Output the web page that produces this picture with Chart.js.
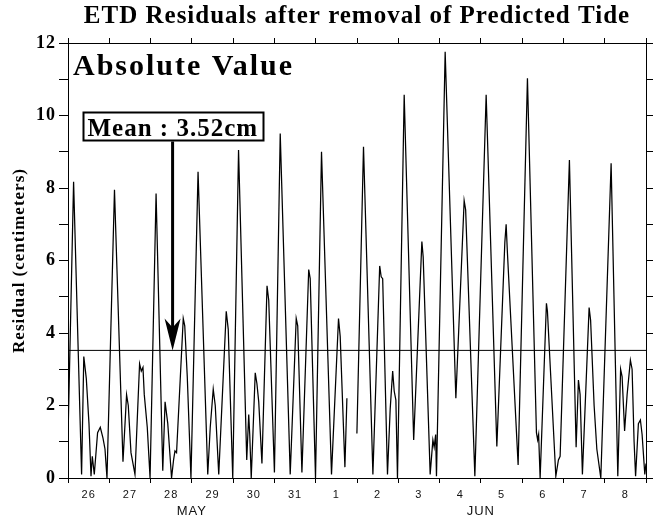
<!DOCTYPE html>
<html><head><meta charset="utf-8">
<script src="https://cdn.jsdelivr.net/npm/chart.js@4"></script>
<style>html,body{margin:0;padding:0;background:#fff;}#wrap{width:653px;height:520px;}</style>
</head><body><div id="wrap"><canvas id="c" width="653" height="520"></canvas></div>
<script>
const TITLE = 'ETD Residuals after removal of Predicted Tide';
const Y_TITLE = 'Residual (centimeters)';
const PANEL_LABEL = 'Absolute Value';
const MEAN = 3.52;
const MEAN_LABEL = 'Mean : 3.52cm';
const ARROW_HOUR = 60.8;
const DAY_LABELS = ['26','27','28','29','30','31','1','2','3','4','5','6','7','8'];
const MONTH_LABELS = ['MAY','JUN'];
const MONTH_CENTERS = [72, 240];
const Y_TICK_VALUES = [0,1,2,3,4,5,6,7,8,9,10,11,12];
const Y_LABEL_VALUES = [0,2,4,6,8,10,12];
// hours since 26 May 00:00
const HOURS = [0, 3.25, 7.90, 9.18, 10.63, 12.20, 13.37, 14.12, 15.28, 17.20,
  18.77, 20.34, 21.50, 22.66, 27.02, 31.96, 34.05, 35.04, 36.61, 38.93,
  41.61, 42.60, 43.58, 44.34, 46.08, 47.71, 51.20, 55.09, 56.43, 58.00,
  60.20, 61.37, 62.18, 63.11, 67.00, 67.87, 69.33, 71.48, 75.60, 81.24,
  82.69, 84.43, 85.60, 87.63, 91.99, 93.15, 95.77, 99.14, 103.90, 105.06,
  105.64, 106.52, 108.84, 109.83, 110.88, 112.74, 115.70, 116.69, 120.00, 123.37,
  129.18, 132.67, 133.54, 135.98, 139.93, 140.80, 143.88, 147.37, 153.18, 157.25,
  158.24, 160.97, 162.13, 165.0, 167.94, 171.78, 177.24, 181.19, 182.06, 182.93,
  185.72, 187.29, 188.74, 189.62, 190.60, 191.53, 195.43, 200.95, 205.71, 206.47,
  210.53, 212.11, 212.86, 213.73, 214.20, 219.25, 225.47, 230.29, 231.16, 236.51,
  243.08, 249.29, 253.94, 254.70, 255.46, 261.67, 267.08, 272.31, 273.00, 273.58,
  274.46, 278.12, 278.70, 283.58, 285.09, 286.08, 291.48, 295.38, 296.72, 297.70,
  299.04, 302.93, 303.80, 305.84, 307.41, 309.73, 315.72, 319.61, 321.24, 322.11,
  323.56, 325.02, 326.93, 327.92, 329.08, 329.95, 331.58, 332.74, 333.73, 335.30,
  336];
const RESIDUAL = [1.1, 8.17, 0.1, 3.35, 2.75, 1.5, 0.05, 0.6, 0.1, 1.25,
  1.4, 1.1, 0.8, 0.0, 7.95, 0.45, 2.3, 2.0, 0.7, 0.1,
  3.15, 2.95, 3.05, 2.3, 1.4, 0.0, 7.85, 0.2, 2.1, 1.5,
  0.0, 0.5, 0.75, 0.7, 4.4, 4.2, 2.8, 0.0, 8.45, 0.1,
  1.4, 2.45, 2.0, 0.1, 4.6, 4.1, 0.0, 9.05, 0.5, 1.75,
  1.2, 0.0, 2.9, 2.6, 2.1, 0.4, 5.3, 4.9, 0.15, 9.5,
  0.1, 4.4, 4.2, 0.15, 5.75, 5.5, 0.0, 9.0, 0.1, 4.4,
  3.9, 0.3, 2.2, null, 1.23, 9.14, 0.1, 5.85, 5.55, 5.5,
  0.1, 1.9, 2.95, 2.4, 2.15, 0.0, 10.57, 1.05, 6.52, 6.1,
  0.1, 1.05, 0.85, 1.2, 0.05, 11.76, 2.2, 7.65, 7.4, 0.05,
  10.57, 0.87, 6.5, 7.0, 6.2, 0.36, 11.03, 1.25, 1.05, 1.2,
  0.0, 4.82, 4.6, 0.05, 0.5, 0.6, 8.77, 0.85, 2.7, 2.3,
  0.1, 4.7, 4.35, 2.0, 0.8, 0.0, 8.68, 0.05, 3.0, 2.8,
  1.3, 2.3, 3.25, 3.0, 1.0, 0.05, 1.5, 1.6, 1.2, 0.1,
  0.4];

const X_MAX = DAY_LABELS.length * 24;
const X_TICKS = [];
for (let i = 0; i <= DAY_LABELS.length; i++) { X_TICKS.push(i * 24); if (i < DAY_LABELS.length) X_TICKS.push(i * 24 + 12); }
const X_BOUNDS = X_TICKS.filter(v => v % 24 === 0);

const annot = {
  id: 'annot',
  beforeDraw(chart) { chart.ctx.letterSpacing = '1px'; },
  afterDraw(chart) {
    const {ctx, chartArea: a, scales} = chart;
    ctx.save();
    ctx.fillStyle = '#000';
    ctx.strokeStyle = '#000';
    ctx.textBaseline = 'alphabetic';
    ctx.textAlign = 'left';
    ctx.letterSpacing = '2px';
    ctx.font = 'bold 30px "Liberation Serif"';
    ctx.fillText(PANEL_LABEL, a.left + 5, a.top + 32);
    const bx = a.left + 15.5, by = a.top + 69.5, bw = 180, bh = 28;
    ctx.fillStyle = '#fff';
    ctx.fillRect(bx, by, bw, bh);
    ctx.lineWidth = 2;
    ctx.strokeRect(bx, by, bw, bh);
    ctx.fillStyle = '#000';
    ctx.letterSpacing = '1px';
    ctx.font = 'bold 25px "Liberation Serif"';
    ctx.fillText(MEAN_LABEL, bx + 4, by + 23);
    const tx = scales.x.getPixelForValue(ARROW_HOUR);
    const ty = scales.y.getPixelForValue(MEAN);
    ctx.lineWidth = 3;
    ctx.beginPath(); ctx.moveTo(tx, by + bh + 1); ctx.lineTo(tx, ty - 22); ctx.stroke();
    ctx.beginPath();
    ctx.moveTo(tx, ty); ctx.lineTo(tx - 8, ty - 32); ctx.lineTo(tx, ty - 23); ctx.lineTo(tx + 8, ty - 32);
    ctx.closePath(); ctx.fill();
    ctx.restore();
    ctx.letterSpacing = '0px';
  }
};

const tickGrid = (len) => ({ drawOnChartArea: false, drawTicks: true, tickLength: len, color: '#000', tickColor: '#000', lineWidth: 1 });
const blackBorder = { display: true, color: '#000', width: 1 };

new Chart(document.getElementById('c'), {
  type: 'line',
  data: {
    datasets: [
      { data: HOURS.map((h, i) => ({x: h, y: RESIDUAL[i]})), borderColor: '#000', borderWidth: 1.25, pointRadius: 0, tension: 0, spanGaps: false, xAxisID: 'x', yAxisID: 'y' },
      { data: [{x: 0, y: MEAN}, {x: X_MAX, y: MEAN}], borderColor: '#000', borderWidth: 1, pointRadius: 0, xAxisID: 'x', yAxisID: 'y' }
    ]
  },
  options: {
    responsive: false, animation: false, devicePixelRatio: 1,
    layout: { padding: 0 },
    plugins: { legend: { display: false }, tooltip: { enabled: false }, title: { display: false } },
    scales: {
      x: {
        type: 'linear', position: 'bottom', weight: 0, min: 0, max: X_MAX,
        afterBuildTicks: s => { s.ticks = X_TICKS.map(v => ({value: v})); },
        afterFit: s => { s.height = 26; },
        grid: { drawOnChartArea: false, drawTicks: true, tickLength: 5, lineWidth: 1,
          tickColor: c => (c.tick && c.tick.value % 24 === 0) ? '#000' : 'rgba(0,0,0,0)' },
        border: blackBorder,
        ticks: { autoSkip: false, maxRotation: 0, padding: 5, color: '#111',
          font: { family: 'Liberation Sans', size: 11 },
          callback: v => (v % 24 === 12) ? DAY_LABELS[(v - 12) / 24] : '' }
      },
      xMonth: {
        type: 'linear', position: 'bottom', weight: 1, min: 0, max: X_MAX,
        afterBuildTicks: s => { s.ticks = MONTH_CENTERS.map(v => ({value: v})); },
        afterFit: s => { s.height = 16; },
        grid: { display: false, drawTicks: false }, border: { display: false },
        ticks: { autoSkip: false, maxRotation: 0, padding: 0, color: '#111',
          font: { family: 'Liberation Sans', size: 13 },
          callback: (v, i) => MONTH_LABELS[i] }
      },
      xTop: {
        type: 'linear', position: 'top', min: 0, max: X_MAX,
        afterBuildTicks: s => { s.ticks = X_BOUNDS.map(v => ({value: v})); },
        afterFit: s => { s.height = 43; },
        grid: tickGrid(5), border: blackBorder,
        ticks: { autoSkip: false, maxRotation: 0, callback: () => '' },
        title: { display: true, text: TITLE, color: '#000', padding: { top: 2, bottom: 0 },
          font: { family: 'Liberation Serif', size: 25, weight: 'bold', lineHeight: 1.2 } }
      },
      y: {
        type: 'linear', position: 'left', min: 0, max: 12,
        afterBuildTicks: s => { s.ticks = Y_TICK_VALUES.map(v => ({value: v})); },
        afterFit: s => { s.width = 68; },
        grid: tickGrid(9), border: blackBorder,
        ticks: { autoSkip: false, padding: 3, color: '#000',
          font: { family: 'Liberation Serif', size: 18, weight: 'bold' },
          callback: v => Y_LABEL_VALUES.includes(v) ? String(v) : '' },
        title: { display: true, text: Y_TITLE, color: '#000', padding: { top: 9, bottom: 0 },
          font: { family: 'Liberation Serif', size: 17, weight: 'bold', lineHeight: 1.2 } }
      },
      yRight: {
        type: 'linear', position: 'right', min: 0, max: 12,
        afterBuildTicks: s => { s.ticks = Y_TICK_VALUES.map(v => ({value: v})); },
        afterFit: s => { s.width = 7; },
        grid: tickGrid(7), border: blackBorder,
        ticks: { autoSkip: false, callback: () => '' }
      }
    }
  },
  plugins: [annot]
});
</script></body></html>
